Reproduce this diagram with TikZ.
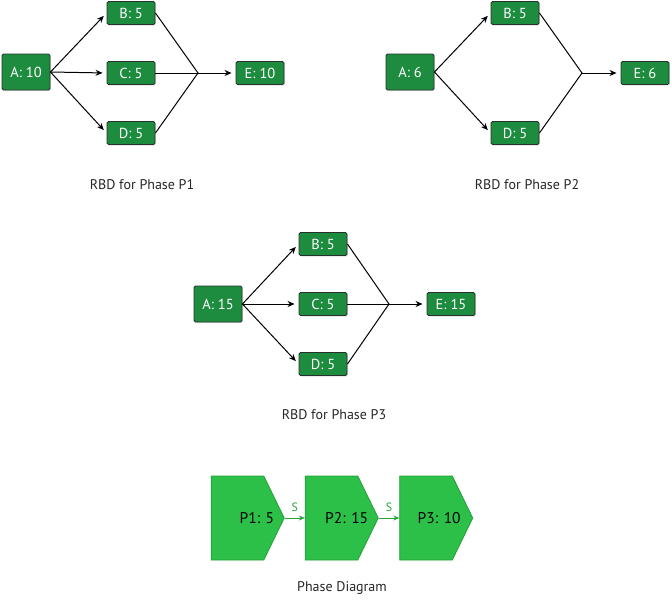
\documentclass[tikz,border=0pt]{standalone}
\usepackage{fontspec}
\setmainfont{PT Sans}
\definecolor{boxgreen}{RGB}{30,140,62}
\definecolor{boxedge}{RGB}{40,50,44}
\definecolor{phasegreen}{RGB}{45,192,72}
\definecolor{phaseedge}{RGB}{34,160,56}
\usetikzlibrary{arrows.meta, positioning, calc, shapes.symbols, shadows}

\tikzset{
  rbdbox/.style={draw=boxedge, line width=0.9pt, fill=boxgreen, rounded corners=1.5pt, text=white,
    minimum width=48pt, minimum height=23pt, inner sep=0pt,
    font=\fontsize{14.5}{16}\selectfont,
    drop shadow={opacity=0.25, shadow xshift=1pt, shadow yshift=-1pt}},
  rbdstart/.style={rbdbox, minimum height=36pt},
  link/.style={draw=black, line width=1pt},
  flow/.style={link, -{Stealth[length=7pt, width=6pt]}, shorten >=4pt},
  caption/.style={font=\fontsize{14}{16}\selectfont, text=black!85},
  phase/.style={shape=signal, signal to=east, signal pointer angle=128,
    draw=phaseedge, fill=phasegreen, line width=0.8pt,
    minimum width=73pt, minimum height=84pt, inner sep=0pt},
  phasetext/.style={font=\fontsize{15.5}{17}\selectfont, text=black, anchor=east},
  seq/.style={draw=phasegreen!85!black, line width=1pt, -{Stealth[length=6pt, width=5pt]}},
  seqlabel/.style={above=3pt, text=phasegreen!85!black, font=\fontsize{12}{13}\selectfont},
}

\begin{document}
\begin{tikzpicture}[x=1pt, y=-1pt]
  \useasboundingbox (0,0) rectangle (672,600);

  % Phase P1
  \node[rbdstart] (A1) at (26,72) {A: 10};
  \node[rbdbox] (B1) at (131,13) {B: 5};
  \node[rbdbox] (C1) at (131,73) {C: 5};
  \node[rbdbox] (D1) at (131,133) {D: 5};
  \node[rbdbox] (E1) at (260,73) {E: 10};
  \coordinate (J1) at (198,73);
  \draw[flow] (A1.east) -- (B1.west);
  \draw[flow] (A1.east) -- (C1.west);
  \draw[flow] (A1.east) -- (D1.west);
  \draw[link] (B1.east) -- (J1) -- (D1.east);
  \draw[link] (C1.east) -- (J1);
  \draw[flow] (J1) -- (E1.west);
  \node[caption] (L1) at (142,185) {RBD for Phase P1};

  % Phase P2
  \node[rbdstart] (A2) at (410,72) {A: 6};
  \node[rbdbox] (B2) at (515,13) {B: 5};
  \node[rbdbox] (D2) at (515,133) {D: 5};
  \node[rbdbox] (E2) at (645,73) {E: 6};
  \coordinate (J2) at (582,73);
  \draw[flow] (A2.east) -- (B2.west);
  \draw[flow] (A2.east) -- (D2.west);
  \draw[link] (B2.east) -- (J2) -- (D2.east);
  \draw[flow] (J2) -- (E2.west);
  \node[caption] (L2) at (527,185) {RBD for Phase P2};

  % Phase P3
  \node[rbdstart] (A3) at (218,304) {A: 15};
  \node[rbdbox] (B3) at (323,244) {B: 5};
  \node[rbdbox] (C3) at (323,304) {C: 5};
  \node[rbdbox] (D3) at (323,364) {D: 5};
  \node[rbdbox] (E3) at (451,304) {E: 15};
  \coordinate (J3) at (389,304);
  \draw[flow] (A3.east) -- (B3.west);
  \draw[flow] (A3.east) -- (C3.west);
  \draw[flow] (A3.east) -- (D3.west);
  \draw[link] (B3.east) -- (J3) -- (D3.east);
  \draw[link] (C3.east) -- (J3);
  \draw[flow] (J3) -- (E3.west);
  \node[caption] (L3) at (334,415) {RBD for Phase P3};

  % Phase diagram
  \node[phase] (P1) at (237.5,518) {};
  \node[phase] (P2) at (331.5,518) {};
  \node[phase] (P3) at (426,518) {};
  \node[phasetext] (T1) at ([xshift=-7pt]P1.east) {P1: 5};
  \node[phasetext] (T2) at ([xshift=-7pt]P2.east) {P2: 15};
  \node[phasetext] (T3) at ([xshift=-9pt]P3.east) {P3: 10};
  \draw[seq] (P1.east) -- node[seqlabel] {S} (P2.west);
  \draw[seq] (P2.east) -- node[seqlabel] {S} (P3.west);
  \node[caption] (L4) at (342,588) {Phase Diagram};
\end{tikzpicture}
\end{document}
